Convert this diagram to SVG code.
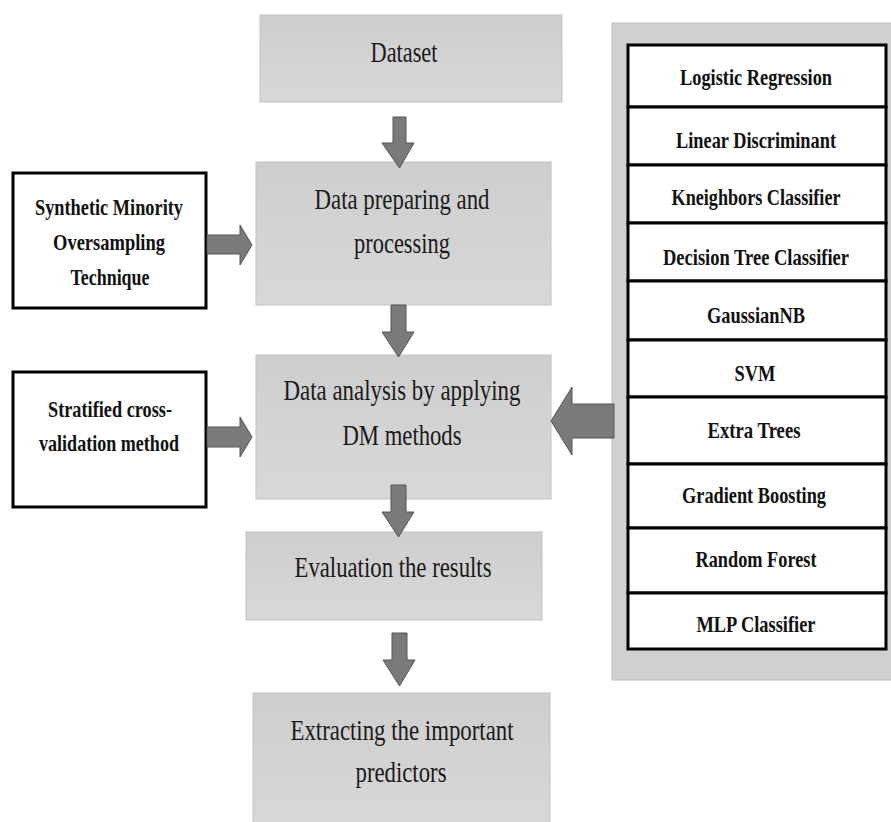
<svg xmlns="http://www.w3.org/2000/svg" width="891" height="822" viewBox="0 0 891 822">
<defs>
<linearGradient id="gbox" x1="0" y1="0" x2="0" y2="1">
<stop offset="0" stop-color="#cecece"/>
<stop offset="1" stop-color="#d8d8d8"/>
</linearGradient>
<style>
.box{fill:url(#gbox);stroke:#c2c2c2;stroke-width:1}
.wbox{fill:#ffffff;stroke:#000;stroke-width:3}
.main{font-family:"Liberation Serif","Times New Roman",serif;font-size:30px;fill:#1a1a1a;text-anchor:middle}
.bold{font-family:"Liberation Serif","Times New Roman",serif;font-size:23px;font-weight:bold;fill:#111;text-anchor:middle}
.arr{fill:#7a7a7a;stroke:#555;stroke-width:1}
.row{fill:#fff;stroke:#000;stroke-width:3}
</style>
</defs>
<rect width="891" height="822" fill="#ffffff"/>

<g id="dataset">
<rect class="box" x="260" y="15" width="302" height="87"/>
<text class="main" x="404" y="62" textLength="67" lengthAdjust="spacingAndGlyphs">Dataset</text>
</g>

<g id="preparing">
<rect class="box" x="256" y="162" width="295" height="143"/>
<text class="main" x="402" y="209" textLength="175" lengthAdjust="spacingAndGlyphs">Data preparing and</text>
<text class="main" x="402" y="253" textLength="96" lengthAdjust="spacingAndGlyphs">processing</text>
</g>

<g id="analysis">
<rect class="box" x="256" y="355" width="295" height="144"/>
<text class="main" x="402" y="400" textLength="237" lengthAdjust="spacingAndGlyphs">Data analysis by applying</text>
<text class="main" x="402" y="445" textLength="119" lengthAdjust="spacingAndGlyphs">DM methods</text>
</g>

<g id="evaluation">
<rect class="box" x="246" y="532" width="296" height="88"/>
<text class="main" x="393" y="577" textLength="197" lengthAdjust="spacingAndGlyphs">Evaluation the results</text>
</g>

<g id="extracting">
<rect class="box" x="253" y="693" width="297" height="135"/>
<text class="main" x="402" y="740" textLength="223" lengthAdjust="spacingAndGlyphs">Extracting the important</text>
<text class="main" x="401" y="782" textLength="91" lengthAdjust="spacingAndGlyphs">predictors</text>
</g>

<g id="smote">
<rect class="wbox" x="13" y="173" width="193" height="135"/>
<text class="bold" x="109" y="215" textLength="148" lengthAdjust="spacingAndGlyphs">Synthetic Minority</text>
<text class="bold" x="109" y="250" textLength="112" lengthAdjust="spacingAndGlyphs">Oversampling</text>
<text class="bold" x="110" y="285" textLength="79" lengthAdjust="spacingAndGlyphs">Technique</text>
</g>

<g id="stratified">
<rect class="wbox" x="13" y="372" width="193" height="135"/>
<text class="bold" x="110" y="417" textLength="124" lengthAdjust="spacingAndGlyphs">Stratified cross-</text>
<text class="bold" x="109" y="451" textLength="140" lengthAdjust="spacingAndGlyphs">validation method</text>
</g>

<g id="methods">
<rect x="612" y="23" width="285" height="657" fill="#d0d0d0" stroke="#bdbdbd" stroke-width="1"/>
<rect class="row" x="628" y="45" width="258" height="62"/>
<rect class="row" x="628" y="107" width="258" height="58"/>
<rect class="row" x="628" y="165" width="258" height="58"/>
<rect class="row" x="628" y="223" width="258" height="58"/>
<rect class="row" x="628" y="281" width="258" height="59"/>
<rect class="row" x="628" y="340" width="258" height="57"/>
<rect class="row" x="628" y="397" width="258" height="67"/>
<rect class="row" x="628" y="464" width="258" height="64"/>
<rect class="row" x="628" y="528" width="258" height="65"/>
<rect class="row" x="628" y="593" width="258" height="56"/>
<text class="bold" x="756" y="85" textLength="152" lengthAdjust="spacingAndGlyphs">Logistic Regression</text>
<text class="bold" x="756" y="148" textLength="160" lengthAdjust="spacingAndGlyphs">Linear Discriminant</text>
<text class="bold" x="756" y="205" textLength="169" lengthAdjust="spacingAndGlyphs">Kneighbors Classifier</text>
<text class="bold" x="756" y="265" textLength="186" lengthAdjust="spacingAndGlyphs">Decision Tree Classifier</text>
<text class="bold" x="756" y="323" textLength="98" lengthAdjust="spacingAndGlyphs">GaussianNB</text>
<text class="bold" x="755" y="381" textLength="41" lengthAdjust="spacingAndGlyphs">SVM</text>
<text class="bold" x="754" y="438" textLength="93" lengthAdjust="spacingAndGlyphs">Extra Trees</text>
<text class="bold" x="754" y="503" textLength="144" lengthAdjust="spacingAndGlyphs">Gradient Boosting</text>
<text class="bold" x="756" y="567" textLength="121" lengthAdjust="spacingAndGlyphs">Random Forest</text>
<text class="bold" x="756" y="632" textLength="119" lengthAdjust="spacingAndGlyphs">MLP Classifier</text>
</g>

<g id="connectors">
<path class="arr" d="M393,117 H406 V143 H414 L399.5,168 L382,143 H393 Z"/>
<path class="arr" d="M391,305 H406 V332 H414 L398.5,357 L382,332 H391 Z"/>
<path class="arr" d="M391,485 H406 V512 H414 L398.5,537 L382,512 H391 Z"/>
<path class="arr" d="M392,633 H407 V660 H415 L399.5,686 L383,660 H392 Z"/>
<path class="arr" d="M207,235 H240 V225 L252,245 L240,265 V254 H207 Z"/>
<path class="arr" d="M207,427 H240 V417 L252,437 L240,457 V447 H207 Z"/>
<path class="arr" d="M614,404 H572 V387 L551,421 L572,455 V438 H614 Z"/>
</g>
</svg>
